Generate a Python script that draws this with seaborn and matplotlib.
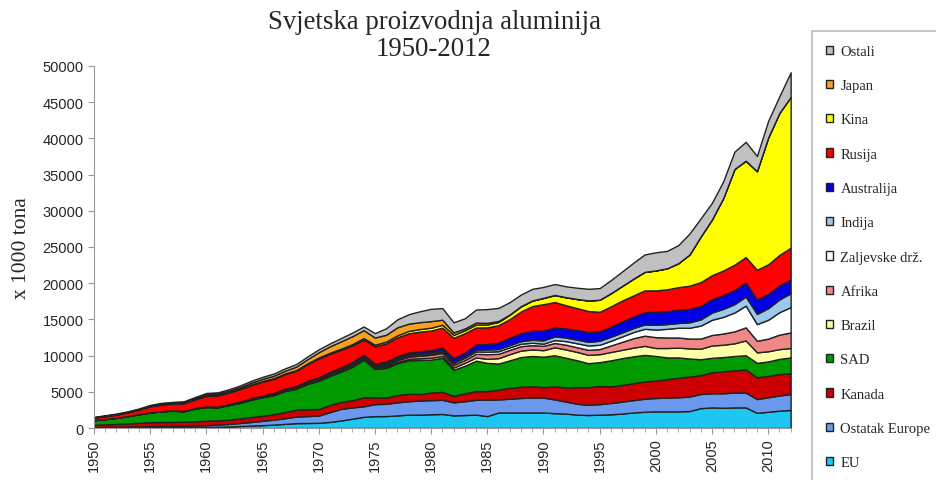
import numpy as np
import pandas as pd
import matplotlib
matplotlib.use("Agg")
import matplotlib.pyplot as plt
import seaborn as sns
from matplotlib.patches import Patch

# godine 1950-2012
years = list(range(1950, 2013))

# proizvodnja po regijama, x 1000 tona (procjena iz grafikona)
eu = [50, 50, 60, 80, 90, 100, 110, 120, 130, 140,
      150, 180, 220, 280, 340, 400, 480, 580, 680, 700,
      720, 850, 1050, 1300, 1550, 1650, 1650, 1750, 1850, 1850,
      1900, 1950, 1750, 1800, 1850, 1650, 2150, 2150, 2150, 2150,
      2150, 2050, 2000, 1850, 1800, 1850, 1900, 2000, 2150, 2250,
      2300, 2300, 2300, 2350, 2750, 2850, 2800, 2850, 2850, 2100,
      2250, 2400, 2500]
ostatak_europe = [100, 100, 110, 120, 130, 150, 170, 190, 200, 220,
                  250, 300, 350, 420, 500, 600, 680, 780, 900, 950,
                  1000, 1350, 1600, 1550, 1450, 1650, 1700, 1800, 1850, 1950,
                  1950, 1950, 1800, 1900, 2050, 2250, 1800, 1900, 2000, 2050,
                  2050, 1900, 1650, 1500, 1400, 1450, 1550, 1650, 1700, 1800,
                  1850, 1900, 1950, 2000, 1950, 1950, 2000, 2050, 2050, 1900,
                  2000, 2100, 2200]
kanada = [300, 350, 400, 450, 500, 550, 550, 530, 550, 580,
          600, 580, 600, 630, 680, 700, 750, 850, 950, 950,
          900, 1000, 950, 1000, 1250, 950, 850, 1000, 1050, 900,
          1050, 1100, 900, 1100, 1200, 1200, 1350, 1500, 1550, 1550,
          1450, 1800, 1950, 2300, 2450, 2500, 2300, 2300, 2350, 2400,
          2400, 2550, 2700, 2750, 2600, 2900, 3050, 3050, 3200, 3000,
          2950, 2950, 2850]
sad = [650, 750, 850, 1000, 1200, 1350, 1500, 1550, 1450, 1750,
       1900, 1800, 2000, 2150, 2400, 2550, 2650, 2900, 2900, 3500,
       3900, 4000, 4200, 4600, 5200, 3900, 4100, 4400, 4600, 4700,
       4550, 4700, 3600, 3800, 4200, 3900, 3600, 3800, 4100, 4200,
       4200, 4300, 4100, 3700, 3300, 3300, 3600, 3700, 3700, 3650,
       3400, 3000, 2800, 2500, 2200, 2000, 1950, 2000, 1950, 2000,
       2000, 2100, 2200]
brazil = [0, 0, 0, 0, 0, 0, 10, 10, 10, 20,
          20, 20, 20, 30, 30, 30, 30, 40, 40, 50,
          60, 80, 100, 110, 110, 120, 140, 170, 190, 240,
          260, 260, 300, 400, 450, 550, 750, 850, 900, 900,
          900, 1100, 1150, 1150, 1150, 1100, 1150, 1150, 1200, 1250,
          1100, 1300, 1350, 1400, 1450, 1700, 1700, 1750, 2050, 1450,
          1400, 1350, 1300]
afrika = [0, 0, 0, 0, 0, 0, 0, 0, 10, 20,
          30, 40, 50, 60, 70, 80, 90, 100, 110, 120,
          130, 140, 150, 150, 150, 160, 200, 250, 300, 350,
          400, 400, 350, 400, 500, 650, 600, 600, 600, 600,
          600, 600, 650, 650, 700, 700, 900, 1100, 1300, 1400,
          1500, 1450, 1400, 1350, 1400, 1450, 1550, 1650, 1800, 1600,
          1750, 2000, 2150]
zaljevske = [0, 0, 0, 0, 0, 0, 0, 0, 0, 0,
             0, 0, 0, 0, 0, 0, 0, 0, 0, 0,
             0, 10, 20, 50, 80, 100, 120, 130, 140, 150,
             150, 200, 250, 300, 330, 350, 350, 350, 350, 330,
             300, 400, 500, 550, 600, 600, 650, 750, 850, 950,
             1050, 1200, 1350, 1500, 1800, 2100, 2300, 2600, 3000, 2300,
             2600, 3100, 3500]
indija = [0, 0, 0, 0, 10, 10, 10, 10, 10, 20,
          20, 20, 40, 60, 60, 60, 80, 100, 120, 130,
          150, 150, 150, 150, 130, 150, 200, 200, 200, 200,
          200, 200, 200, 200, 250, 300, 300, 300, 350, 400,
          450, 500, 500, 500, 500, 550, 550, 550, 550, 600,
          650, 650, 650, 750, 850, 1000, 1100, 1150, 1250, 1400,
          1600, 1750, 1900]
australija = [0, 0, 0, 0, 0, 10, 10, 10, 10, 10,
              10, 10, 20, 40, 60, 80, 80, 90, 100, 120,
              150, 170, 180, 200, 200, 200, 220, 230, 250, 270,
              300, 350, 500, 500, 700, 750, 900, 1000, 1100, 1250,
              1350, 1250, 1250, 1350, 1350, 1300, 1400, 1500, 1600, 1700,
              1800, 1800, 1850, 1850, 1850, 1850, 1900, 1950, 1950, 2000,
              1950, 1950, 1900]
rusija = [350, 400, 450, 520, 600, 830, 900, 950, 1050, 1200,
          1450, 1550, 1600, 1700, 1800, 1900, 1950, 2000, 2100, 2300,
          2600, 2500, 2400, 2300, 2100, 2400, 2500, 2600, 2650, 2700,
          2700, 2750, 2800, 2700, 2350, 2300, 2400, 2600, 3000, 3400,
          3650, 3500, 3200, 3000, 2900, 2700, 2800, 2900, 2900, 3000,
          2950, 3000, 3100, 3200, 3300, 3300, 3400, 3500, 3500, 4100,
          4100, 4200, 4400]
kina = [0, 0, 0, 0, 10, 20, 20, 30, 50, 70,
        100, 80, 60, 70, 80, 90, 100, 100, 100, 120,
        130, 150, 170, 180, 200, 220, 250, 280, 330, 360,
        400, 400, 400, 400, 400, 400, 450, 600, 700, 750,
        850, 950, 1100, 1250, 1450, 1650, 1800, 2000, 2300, 2550,
        2750, 2900, 3300, 4300, 6300, 7700, 10000, 13200, 13300, 13600,
        17500, 19600, 20800]
japan = [25, 40, 45, 45, 55, 60, 70, 70, 80, 100,
         130, 150, 170, 200, 250, 300, 340, 380, 480, 570,
         730, 890, 1010, 1100, 1100, 1000, 950, 1100, 1000, 950,
         900, 700, 350, 250, 280, 220, 140, 40, 35, 35,
         35, 30, 20, 20, 20, 20, 20, 20, 20, 10,
         10, 10, 10, 10, 10, 10, 10, 10, 10, 10,
         10, 10, 10]
ostali = [70, 80, 90, 100, 110, 120, 130, 140, 150, 160,
          180, 200, 220, 240, 260, 280, 300, 320, 350, 380,
          400, 400, 450, 500, 500, 600, 900, 1100, 1300, 1500,
          1700, 1600, 1400, 1400, 1800, 1900, 1800, 1700, 1600, 1600,
          1500, 1500, 1500, 1550, 1600, 1600, 1800, 2000, 2200, 2400,
          2500, 2400, 2500, 2900, 2500, 2300, 2300, 2400, 2600, 2100,
          2300, 2300, 3400]

labels = ["EU", "Ostatak Europe", "Kanada", "SAD", "Brazil", "Afrika",
          "Zaljevske drž.", "Indija", "Australija", "Rusija", "Kina",
          "Japan", "Ostali"]
colors = ["#1ec6f2", "#6b98ec", "#cc0000", "#009a00", "#ffffa8", "#f08888",
          "#ffffff", "#9cc8ec", "#0000e6", "#ff0000", "#ffff00",
          "#f8a020", "#c0c0c0"]

df = pd.DataFrame({"Godina": years, "EU": eu, "Ostatak Europe": ostatak_europe,
                   "Kanada": kanada, "SAD": sad, "Brazil": brazil,
                   "Afrika": afrika, "Zaljevske drž.": zaljevske,
                   "Indija": indija, "Australija": australija,
                   "Rusija": rusija, "Kina": kina, "Japan": japan,
                   "Ostali": ostali})

sns.set_style("white")
plt.rcParams['font.family'] = ['Liberation Serif', 'DejaVu Serif']

fig = plt.figure(figsize=(9.36, 4.81), dpi=100)
ax = fig.add_axes([0.1004, 0.108, 0.7443, 0.753])

ax.stackplot(df["Godina"], [df[c] for c in labels], colors=colors,
             edgecolor="#222222", linewidth=1.0)

ax.set_xlim(1950, 2012)
ax.set_ylim(0, 50000)
ax.set_yticks(range(0, 50001, 5000))
ax.set_xticks(range(1950, 2011, 5))
ax.set_xticks(range(1950, 2013), minor=True)
for lab in ax.get_yticklabels() + ax.get_xticklabels():
    lab.set_family(['Liberation Sans', 'DejaVu Sans'])
ax.tick_params(axis='y', labelsize=10.5, length=4, color="#999999", direction='out', left=True)
ax.tick_params(axis='x', which='both', labelsize=10.5, length=4, color="#999999",
               direction='out', bottom=True, labelrotation=90)
ax.tick_params(axis='x', which='minor', length=3)

sns.despine(ax=ax, top=True, right=True)
ax.spines['left'].set_color("#999999")
ax.spines['bottom'].set_color("#999999")

ax.set_ylabel("x 1000 tona", fontsize=15.5, labelpad=8)
fig.text(434 / 936, 1 - 36 / 481, "Svjetska proizvodnja aluminija\n1950-2012",
         ha='center', va='center', fontsize=19.3, linespacing=1.1)

handles = [Patch(facecolor=c, edgecolor="#222222", linewidth=1.0, label=l)
           for c, l in zip(colors, labels)][::-1]
leg = fig.legend(handles=handles, loc='upper left',
                 bbox_to_anchor=(812 / 936, 1 - 32 / 481),
                 fontsize=10.5, frameon=True, fancybox=False,
                 handlelength=0.5, handleheight=0.5, handletextpad=0.5,
                 labelspacing=1.46, borderpad=0.95, borderaxespad=0)
leg.get_frame().set_edgecolor("#aaaaaa")
leg.get_frame().set_linewidth(1.2)

fig.savefig("out.png", dpi=100)
